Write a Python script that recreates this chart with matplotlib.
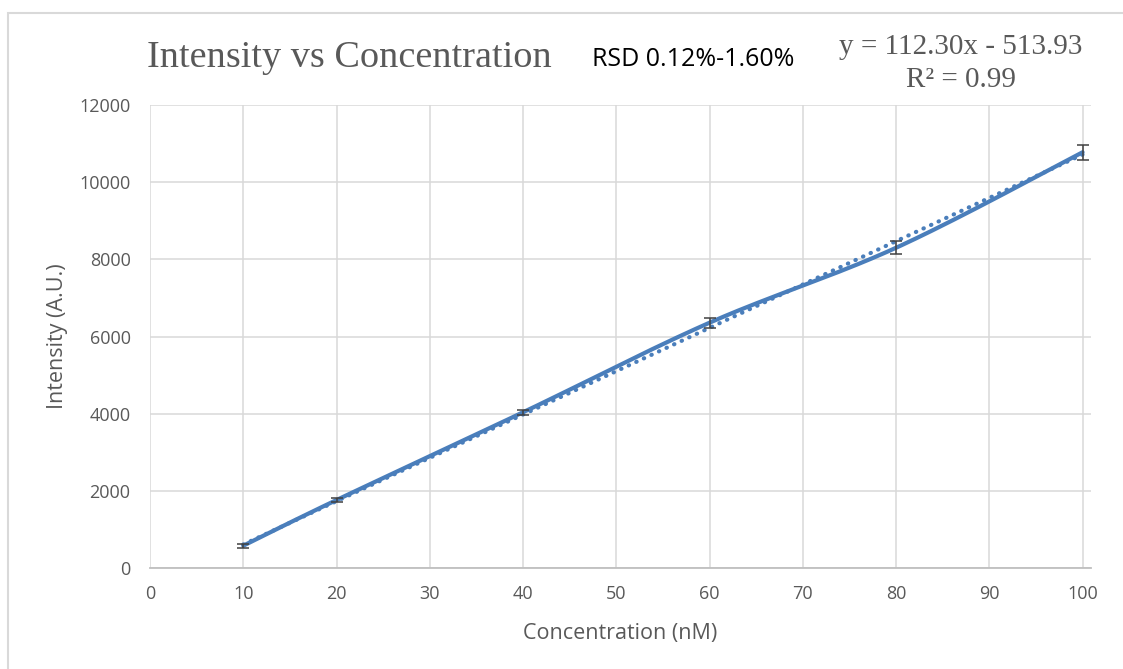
import numpy as np
import matplotlib
matplotlib.use("Agg")
import matplotlib.pyplot as plt
from matplotlib.patches import Rectangle

# ---- data ----
conc = [10, 20, 40, 60, 80, 100]
intensity = [578, 1762, 4036, 6358, 8300, 10775]
errors = [50, 50, 60, 125, 170, 200]
slope = 112.30
intercept = -513.93
r2 = 0.99
title = "Intensity vs Concentration"
rsd_text = "RSD 0.12%-1.60%"
xticks = [0, 10, 20, 30, 40, 50, 60, 70, 80, 90, 100]
yticks = [0, 2000, 4000, 6000, 8000, 10000, 12000]

BLUE = "#4a7ebb"
GREY_TXT = "#595959"
GRID = "#d9d9d9"

def catmull_rom(x, y, n=40):
    x = np.asarray(x, float); y = np.asarray(y, float)
    px = np.concatenate([[x[0]], x, [x[-1]]])
    py = np.concatenate([[y[0]], y, [y[-1]]])
    xs, ys = [], []
    t = np.linspace(0, 1, n)
    for i in range(1, len(px) - 2):
        p0 = np.array([px[i - 1], py[i - 1]]); p1 = np.array([px[i], py[i]])
        p2 = np.array([px[i + 1], py[i + 1]]); p3 = np.array([px[i + 2], py[i + 2]])
        c1 = p1 + (p2 - p0) / 6.0
        c2 = p2 - (p3 - p1) / 6.0
        b = ((1 - t) ** 3)[:, None] * p1 + (3 * (1 - t) ** 2 * t)[:, None] * c1 \
            + (3 * (1 - t) * t ** 2)[:, None] * c2 + (t ** 3)[:, None] * p2
        xs.append(b[:, 0]); ys.append(b[:, 1])
    return np.concatenate(xs), np.concatenate(ys)

fig = plt.figure(figsize=(11.23, 6.69), dpi=100)
fig.patch.set_facecolor("white")
fig.add_artist(Rectangle((8 / 1123, -0.05), 1.1, (669 - 13) / 669 + 0.05,
                         transform=fig.transFigure, fill=False,
                         edgecolor=GRID, linewidth=1.5))

ax = fig.add_axes([150 / 1123, (669 - 568) / 669, (1091 - 150) / 1123, (568 - 105) / 669])
ax.set_xlim(0, 100.9)
ax.set_ylim(0, 12000)
ax.set_xticks(xticks)
ax.set_yticks(yticks)
ax.grid(True, color=GRID, linewidth=1.1)
ax.set_axisbelow(True)
for s in ["top", "right", "left"]:
    ax.spines[s].set_visible(False)
ax.spines["bottom"].set_color("#bfbfbf")
ax.spines["bottom"].set_linewidth(1.3)
ax.tick_params(length=0, labelsize=13, labelcolor=GREY_TXT)
ax.tick_params(axis="y", pad=14)
ax.tick_params(axis="x", pad=12)
for lab in ax.get_xticklabels() + ax.get_yticklabels():
    lab.set_family("Open Sans")

# trendline (dotted)
tx = np.array([conc[0], conc[-1]], float)
ax.plot(tx, slope * tx + intercept, linestyle=(0, (0.1, 1.9)), color=BLUE,
        linewidth=3, dash_capstyle="round", zorder=3)
# smoothed line
sx, sy = catmull_rom(conc, intensity)
ax.plot(sx, sy, color=BLUE, linewidth=3, solid_capstyle="round", zorder=4)
# error bars
ax.errorbar(conc, intensity, yerr=errors, fmt="none", ecolor="#404040",
            elinewidth=1.1, capsize=4.2, capthick=1.1, zorder=5)

ax.set_xlabel("Concentration (nM)", fontsize=15.5, color=GREY_TXT, family="Open Sans", labelpad=15)
ax.set_ylabel("Intensity (A.U.)", fontsize=15.5, color=GREY_TXT, family="Open Sans", labelpad=8)

fig.text(147 / 1123, 1 - 58 / 669, title, fontsize=27.5, color=GREY_TXT,
         family="Liberation Serif", ha="left", va="center")
fig.text(592 / 1123, 1 - 59 / 669, rsd_text, fontsize=18, color="black",
         family="Open Sans", ha="left", va="center")
sign = "-" if intercept < 0 else "+"
fig.text(961 / 1123, 1 - 47 / 669, f"y = {slope:.2f}x {sign} {abs(intercept):.2f}",
         fontsize=21, color=GREY_TXT, family="Liberation Serif", ha="center", va="center")
fig.text(961 / 1123, 1 - 80 / 669, f"R² = {r2:.2f}",
         fontsize=21, color=GREY_TXT, family="Liberation Serif", ha="center", va="center")

fig.savefig("out.png", dpi=100, facecolor="white")
